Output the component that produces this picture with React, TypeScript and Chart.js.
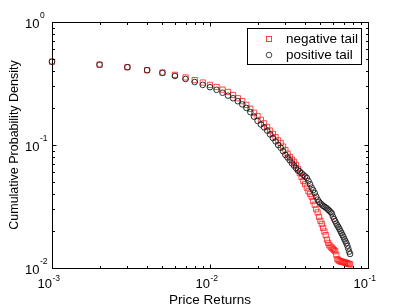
import React, { useEffect, useRef } from "react";
import { Chart, registerables } from "chart.js";

Chart.register(...registerables);

const returnsPositive = [
  0.001, 0.002, 0.003, 0.004, 0.005, 0.006, 0.007, 0.008, 0.009, 0.01,
  0.011, 0.012, 0.013, 0.014, 0.015, 0.016, 0.017, 0.018, 0.019, 0.02,
  0.021, 0.022, 0.023, 0.024, 0.025, 0.026, 0.027, 0.028, 0.029, 0.03,
  0.031, 0.032, 0.033, 0.034, 0.035, 0.036, 0.037, 0.038, 0.039, 0.04,
  0.041, 0.042, 0.043, 0.044, 0.045, 0.046, 0.047, 0.048, 0.049, 0.05,
  0.051, 0.052, 0.053, 0.054, 0.055, 0.056, 0.057, 0.058, 0.059, 0.06,
  0.061, 0.062, 0.063, 0.064, 0.065, 0.066, 0.067, 0.068, 0.069, 0.07,
  0.071, 0.072, 0.073, 0.074, 0.075, 0.076, 0.077,
];
const densityPositive = [
  0.476, 0.45, 0.429, 0.406, 0.386, 0.364, 0.344, 0.325, 0.308, 0.295,
  0.281, 0.266, 0.252, 0.24, 0.227, 0.214, 0.2, 0.185, 0.17, 0.157,
  0.147, 0.139, 0.131, 0.122, 0.114, 0.107, 0.1, 0.095, 0.089, 0.083,
  0.079, 0.075, 0.071, 0.068, 0.065, 0.062, 0.061, 0.059, 0.057, 0.0555,
  0.054, 0.051, 0.048, 0.045, 0.043, 0.0407, 0.038, 0.036, 0.0345, 0.0335,
  0.0328, 0.032, 0.0315, 0.031, 0.0305, 0.0298, 0.0292, 0.0285, 0.0278, 0.0262,
  0.025, 0.024, 0.023, 0.0222, 0.0215, 0.0207, 0.0199, 0.0192, 0.0185, 0.0178,
  0.0171, 0.0165, 0.0159, 0.0152, 0.0144, 0.0136, 0.013,
];
const returnsNegative = [
  0.001, 0.002, 0.003, 0.004, 0.005, 0.006, 0.007, 0.008, 0.009, 0.01,
  0.011, 0.012, 0.013, 0.014, 0.015, 0.016, 0.017, 0.018, 0.019, 0.02,
  0.021, 0.022, 0.023, 0.024, 0.025, 0.026, 0.027, 0.028, 0.029, 0.03,
  0.031, 0.032, 0.033, 0.034, 0.035, 0.036, 0.037, 0.038, 0.039, 0.04,
  0.041, 0.042, 0.043, 0.044, 0.045, 0.046, 0.047, 0.048, 0.049, 0.05,
  0.051, 0.052, 0.053, 0.054, 0.055, 0.056, 0.057, 0.058, 0.059, 0.06,
  0.061, 0.062, 0.063, 0.064, 0.065, 0.066, 0.067, 0.068, 0.069, 0.07,
  0.071, 0.072, 0.073, 0.074, 0.075, 0.076, 0.077,
];
const densityNegative = [
  0.476, 0.45, 0.429, 0.406, 0.388, 0.372, 0.354, 0.337, 0.322, 0.308,
  0.296, 0.282, 0.27, 0.255, 0.24, 0.227, 0.212, 0.197, 0.183, 0.172,
  0.16, 0.15, 0.14, 0.131, 0.123, 0.116, 0.109, 0.104, 0.097, 0.091,
  0.085, 0.08, 0.076, 0.073, 0.069, 0.064, 0.059, 0.055, 0.051, 0.048,
  0.045, 0.042, 0.04, 0.038, 0.035, 0.0327, 0.03, 0.0283, 0.026, 0.0242,
  0.0228, 0.0212, 0.0198, 0.0185, 0.017, 0.016, 0.0153, 0.0149, 0.0146, 0.0143,
  0.014, 0.0137, 0.0128, 0.0118, 0.0116, 0.0114, 0.0113, 0.0113, 0.0112, 0.0112,
  0.0111, 0.011, 0.011, 0.0109, 0.0108, 0.0108, 0.0107,
];

const xTickExponents = [-3, -2, -1];
const yTickExponents = [-2, -1, 0];
const seriesLabels = ["negative tail", "positive tail"];
const xAxisTitle = "Price Returns";
const yAxisTitle = "Cumulative Probability Density";

const FONT = '"Liberation Sans", Arial, Helvetica, sans-serif';
const RED = "#ff1a1a";
const DARK = "#1a1a1a";

const axesPlugin = {
  id: "matlabAxes",
  afterDraw(chart: any) {
    const { ctx, chartArea: ca } = chart;
    const xs = chart.scales.x;
    const ys = chart.scales.y;
    ctx.save();
    ctx.strokeStyle = "#000";
    ctx.lineWidth = 1;
    const L = Math.round(ca.left) + 0.5;
    const R = Math.round(ca.right) + 0.5;
    const T = Math.round(ca.top) + 0.5;
    const B = Math.round(ca.bottom) + 0.5;
    ctx.strokeRect(L, T, R - L, B - T);

    const ticksFor = (min: number, max: number) => {
      const out: { v: number; major: boolean }[] = [];
      for (let d = Math.floor(Math.log10(min)); d <= Math.ceil(Math.log10(max)); d++) {
        for (let m = 1; m <= 9; m++) {
          const v = m * Math.pow(10, d);
          if (v >= min * 0.9999 && v <= max * 1.0001) out.push({ v, major: m === 1 });
        }
      }
      return out;
    };
    ctx.beginPath();
    for (const t of ticksFor(xs.min, xs.max)) {
      const px = Math.round(xs.getPixelForValue(t.v)) + 0.5;
      const len = t.major ? 4 : 2.5;
      ctx.moveTo(px, B);
      ctx.lineTo(px, B - len);
      ctx.moveTo(px, T);
      ctx.lineTo(px, T + len);
    }
    for (const t of ticksFor(ys.min, ys.max)) {
      const py = Math.round(ys.getPixelForValue(t.v)) + 0.5;
      const len = t.major ? 4 : 2.5;
      ctx.moveTo(L, py);
      ctx.lineTo(L + len, py);
      ctx.moveTo(R, py);
      ctx.lineTo(R - len, py);
    }
    ctx.stroke();

    ctx.fillStyle = "#000";
    const baseFont = `13px ${FONT}`;
    const expFont = `8.5px ${FONT}`;
    // x tick labels
    for (const e of xTickExponents) {
      const px = xs.getPixelForValue(Math.pow(10, e));
      ctx.font = baseFont;
      ctx.textAlign = "right";
      ctx.textBaseline = "alphabetic";
      ctx.fillText("10", px, ca.bottom + 20);
      ctx.font = expFont;
      ctx.textAlign = "left";
      ctx.fillText(String(e), px + 0.5, ca.bottom + 12.5);
    }
    // y tick labels
    for (const e of yTickExponents) {
      const py = ys.getPixelForValue(Math.pow(10, e));
      ctx.font = baseFont;
      ctx.textAlign = "right";
      ctx.textBaseline = "alphabetic";
      ctx.fillText("10", 39.5, py + 5.5);
      ctx.font = expFont;
      ctx.textAlign = "left";
      ctx.fillText(String(e), 40, py - 4);
    }
    // axis titles
    ctx.font = `13.5px ${FONT}`;
    ctx.textAlign = "center";
    ctx.textBaseline = "alphabetic";
    ctx.fillText(xAxisTitle, (ca.left + ca.right) / 2, ca.bottom + 36);
    ctx.save();
    ctx.translate(18, (ca.top + ca.bottom) / 2);
    ctx.rotate(-Math.PI / 2);
    ctx.font = `12.5px ${FONT}`;
    ctx.fillText(yAxisTitle, 0, 0);
    ctx.restore();

    // legend box
    const lx = 247.5, ly = 28.5, lw = 114, lh = 36;
    ctx.fillStyle = "#fff";
    ctx.fillRect(lx, ly, lw, lh);
    ctx.strokeStyle = "#000";
    ctx.lineWidth = 1;
    ctx.strokeRect(lx, ly, lw, lh);
    // entry 1: red square
    ctx.strokeStyle = RED;
    ctx.lineWidth = 0.8;
    ctx.strokeRect(269 - 2.6, 39 - 2.6, 5.2, 5.2);
    // entry 2: circle
    ctx.strokeStyle = DARK;
    ctx.beginPath();
    ctx.arc(269, 55, 2.8, 0, Math.PI * 2);
    ctx.stroke();
    ctx.fillStyle = "#000";
    ctx.font = `13.5px ${FONT}`;
    ctx.textAlign = "left";
    ctx.textBaseline = "middle";
    ctx.fillText(seriesLabels[0], 286, 39.5);
    ctx.fillText(seriesLabels[1], 286, 55.5);
    ctx.restore();
  },
};

export default function App() {
  const canvasRef = useRef<HTMLCanvasElement | null>(null);

  useEffect(() => {
    if (!canvasRef.current) return;
    const chart = new Chart(canvasRef.current, {
      type: "scatter",
      data: {
        datasets: [
          {
            label: seriesLabels[1],
            data: returnsPositive.map((x, i) => ({ x, y: densityPositive[i] })),
            pointStyle: "circle",
            pointRadius: 2.8,
            borderWidth: 0.9,
            borderColor: DARK,
            backgroundColor: "rgba(0,0,0,0)",
            showLine: false,
            clip: false as any,
          },
          {
            label: seriesLabels[0],
            data: returnsNegative.map((x, i) => ({ x, y: densityNegative[i] })),
            pointStyle: "rect",
            pointRadius: 3.7,
            borderWidth: 0.8,
            borderColor: RED,
            backgroundColor: "rgba(0,0,0,0)",
            showLine: false,
            clip: false as any,
          },
        ],
      },
      options: {
        animation: false,
        responsive: false,
        devicePixelRatio: 1,
        events: [],
        layout: { padding: { left: 52, right: 39, top: 22, bottom: 38 } },
        scales: {
          x: { type: "logarithmic", min: 0.001, max: 0.1, display: false },
          y: { type: "logarithmic", min: 0.01, max: 1, display: false },
        },
        plugins: {
          legend: { display: false },
          tooltip: { enabled: false },
        },
      },
      plugins: [axesPlugin],
    });
    return () => chart.destroy();
  }, []);

  return (
    <div style={{ position: "fixed", left: 0, top: 0, width: 407, height: 306, background: "#fff" }}>
      <canvas ref={canvasRef} width={407} height={306} style={{ display: "block" }} />
    </div>
  );
}
